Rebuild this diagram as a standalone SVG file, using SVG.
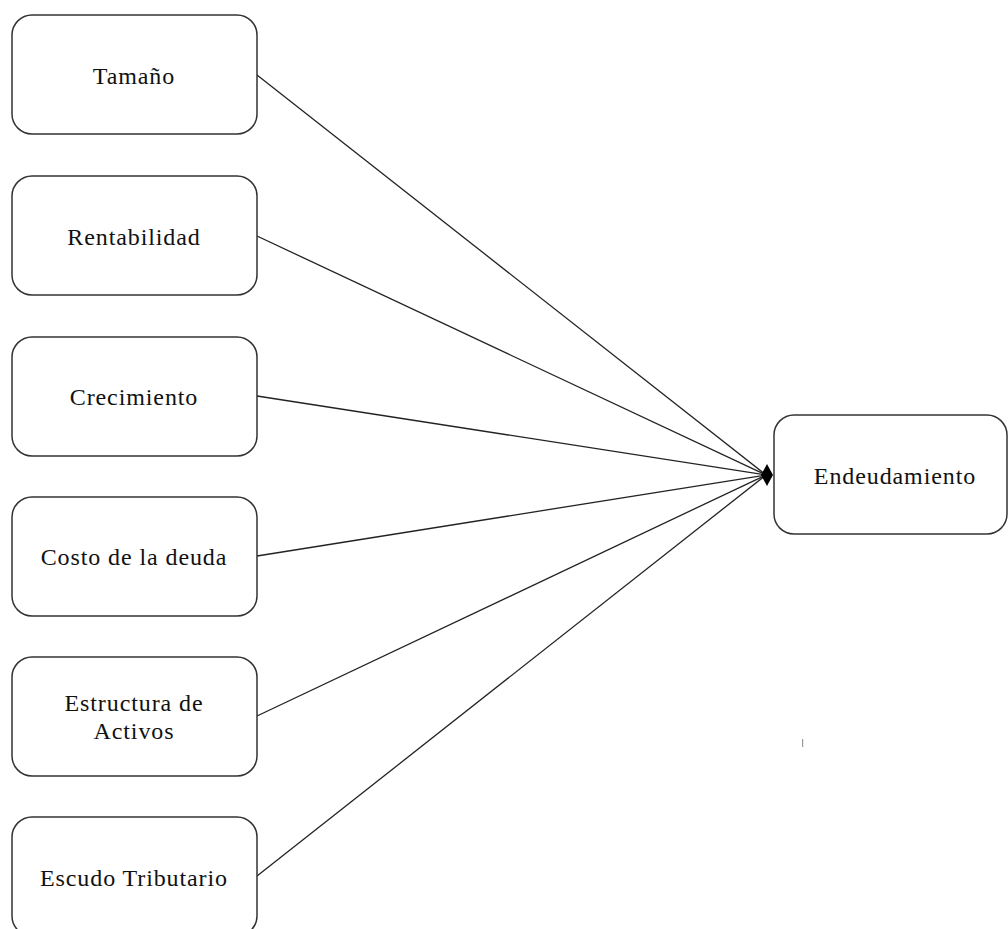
<svg xmlns="http://www.w3.org/2000/svg" width="1008" height="929" viewBox="0 0 1008 929">
<style>
.box{fill:#fff;stroke:#333;stroke-width:1.5}
.lbl{font-family:"Liberation Serif","Times New Roman",serif;font-size:24px;letter-spacing:0.9px;fill:#111;text-anchor:middle;dominant-baseline:central}
.conn{stroke:#222;stroke-width:1.3;fill:none}
</style>
<rect width="1008" height="929" fill="#fff"/>
<g id="connectors">
<line class="conn" x1="257" y1="75" x2="766" y2="475"/>
<line class="conn" x1="257" y1="236" x2="766" y2="475"/>
<line class="conn" x1="257" y1="396" x2="766" y2="475"/>
<line class="conn" x1="257" y1="556" x2="766" y2="475"/>
<line class="conn" x1="257" y1="716" x2="766" y2="475"/>
<line class="conn" x1="257" y1="876" x2="766" y2="475"/>
<polygon points="767,464 773,475 767,486 761,475" fill="#000"/>
</g>
<g id="n-tamano"><rect class="box" x="12" y="15" width="245" height="119" rx="20"/><text class="lbl" x="134" y="76">Tamaño</text></g>
<g id="n-rentabilidad"><rect class="box" x="12" y="176" width="245" height="119" rx="20"/><text class="lbl" x="134" y="237">Rentabilidad</text></g>
<g id="n-crecimiento"><rect class="box" x="12" y="337" width="245" height="119" rx="20"/><text class="lbl" x="134" y="397">Crecimiento</text></g>
<g id="n-costo"><rect class="box" x="12" y="497" width="245" height="119" rx="20"/><text class="lbl" x="134" y="557">Costo de la deuda</text></g>
<g id="n-estructura"><rect class="box" x="12" y="657" width="245" height="119" rx="20"/><text class="lbl" x="134" y="703">Estructura de</text><text class="lbl" x="134" y="731">Activos</text></g>
<g id="n-escudo"><rect class="box" x="12" y="817" width="245" height="119" rx="20"/><text class="lbl" x="134" y="878">Escudo Tributario</text></g>
<g id="n-endeudamiento"><rect class="box" x="774" y="415" width="233" height="119" rx="20"/><text class="lbl" x="895" y="476">Endeudamiento</text></g>
<rect x="802" y="739" width="1.2" height="8" fill="#999"/>
</svg>
